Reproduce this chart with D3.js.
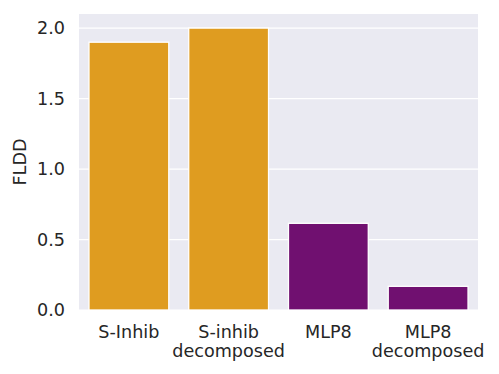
<!doctype html>
<html>
<head>
    <style>
        body { margin: 0; background: #fff; }
        text { font-family: "DejaVu Sans", sans-serif; fill: #262626; }
    </style>
    <script src="https://d3js.org/d3.v7.min.js"></script>
</head>
<body>
<svg width="499" height="374"></svg>
<script>
    // data
    var categories = [["S-Inhib"], ["S-inhib", "decomposed"], ["MLP8"], ["MLP8", "decomposed"]];
    var values = [1.90, 2.00, 0.615, 0.168];
    var barColors = ["#df9c20", "#df9c20", "#701070", "#701070"];
    var yTicks = [0.0, 0.5, 1.0, 1.5, 2.0];

    var svg = d3.select("svg"),
        pLeft = 79, pTop = 14, pRight = 478, pBottom = 310,
        fs = "17.6px";

    var keys = categories.map(function(c) { return c.join(" "); });

    var x = d3.scaleBand().domain(keys).range([pLeft, pRight]).paddingInner(0.2).paddingOuter(0.1),
        y = d3.scaleLinear().domain([0, 2.1]).range([pBottom, pTop]);

    // background
    svg.append("rect")
       .attr("x", pLeft).attr("y", pTop)
       .attr("width", pRight - pLeft).attr("height", pBottom - pTop)
       .attr("fill", "#eaeaf2");

    // grid
    svg.append("g").selectAll("line")
       .data(yTicks)
       .enter().append("line")
       .attr("x1", pLeft).attr("x2", pRight)
       .attr("y1", function(d) { return y(d); })
       .attr("y2", function(d) { return y(d); })
       .attr("stroke", "#fff").attr("stroke-width", 1.25);

    // bars
    svg.append("g").selectAll("rect")
       .data(values)
       .enter().append("rect")
       .attr("x", function(d, i) { return x(keys[i]); })
       .attr("y", function(d) { return y(d); })
       .attr("width", x.bandwidth())
       .attr("height", function(d) { return pBottom - y(d); })
       .attr("fill", function(d, i) { return barColors[i]; })
       .attr("stroke", "#fff").attr("stroke-width", 1.3);

    // y axis labels
    svg.append("g").selectAll("text")
       .data(yTicks)
       .enter().append("text")
       .attr("x", 65)
       .attr("y", function(d) { return y(d); })
       .attr("dy", "0.36em")
       .attr("text-anchor", "end")
       .style("font-size", fs)
       .text(function(d) { return d.toFixed(1); });

    // x axis labels
    var xl = svg.append("g").selectAll("text")
       .data(categories)
       .enter().append("text")
       .attr("text-anchor", "middle")
       .style("font-size", fs)
       .attr("transform", function(d, i) {
           return "translate(" + (x(keys[i]) + x.bandwidth() / 2) + "," + 338 + ")";
       });
    xl.selectAll("tspan")
      .data(function(d) { return d; })
      .enter().append("tspan")
      .attr("x", 0)
      .attr("y", function(d, i) { return i * 19; })
      .text(function(d) { return d; });

    svg.append("text")
       .attr("transform", "translate(26," + ((pTop + pBottom) / 2) + ") rotate(-90)")
       .attr("text-anchor", "middle")
       .style("font-size", fs)
       .text("FLDD");
</script>
</body>
</html>
